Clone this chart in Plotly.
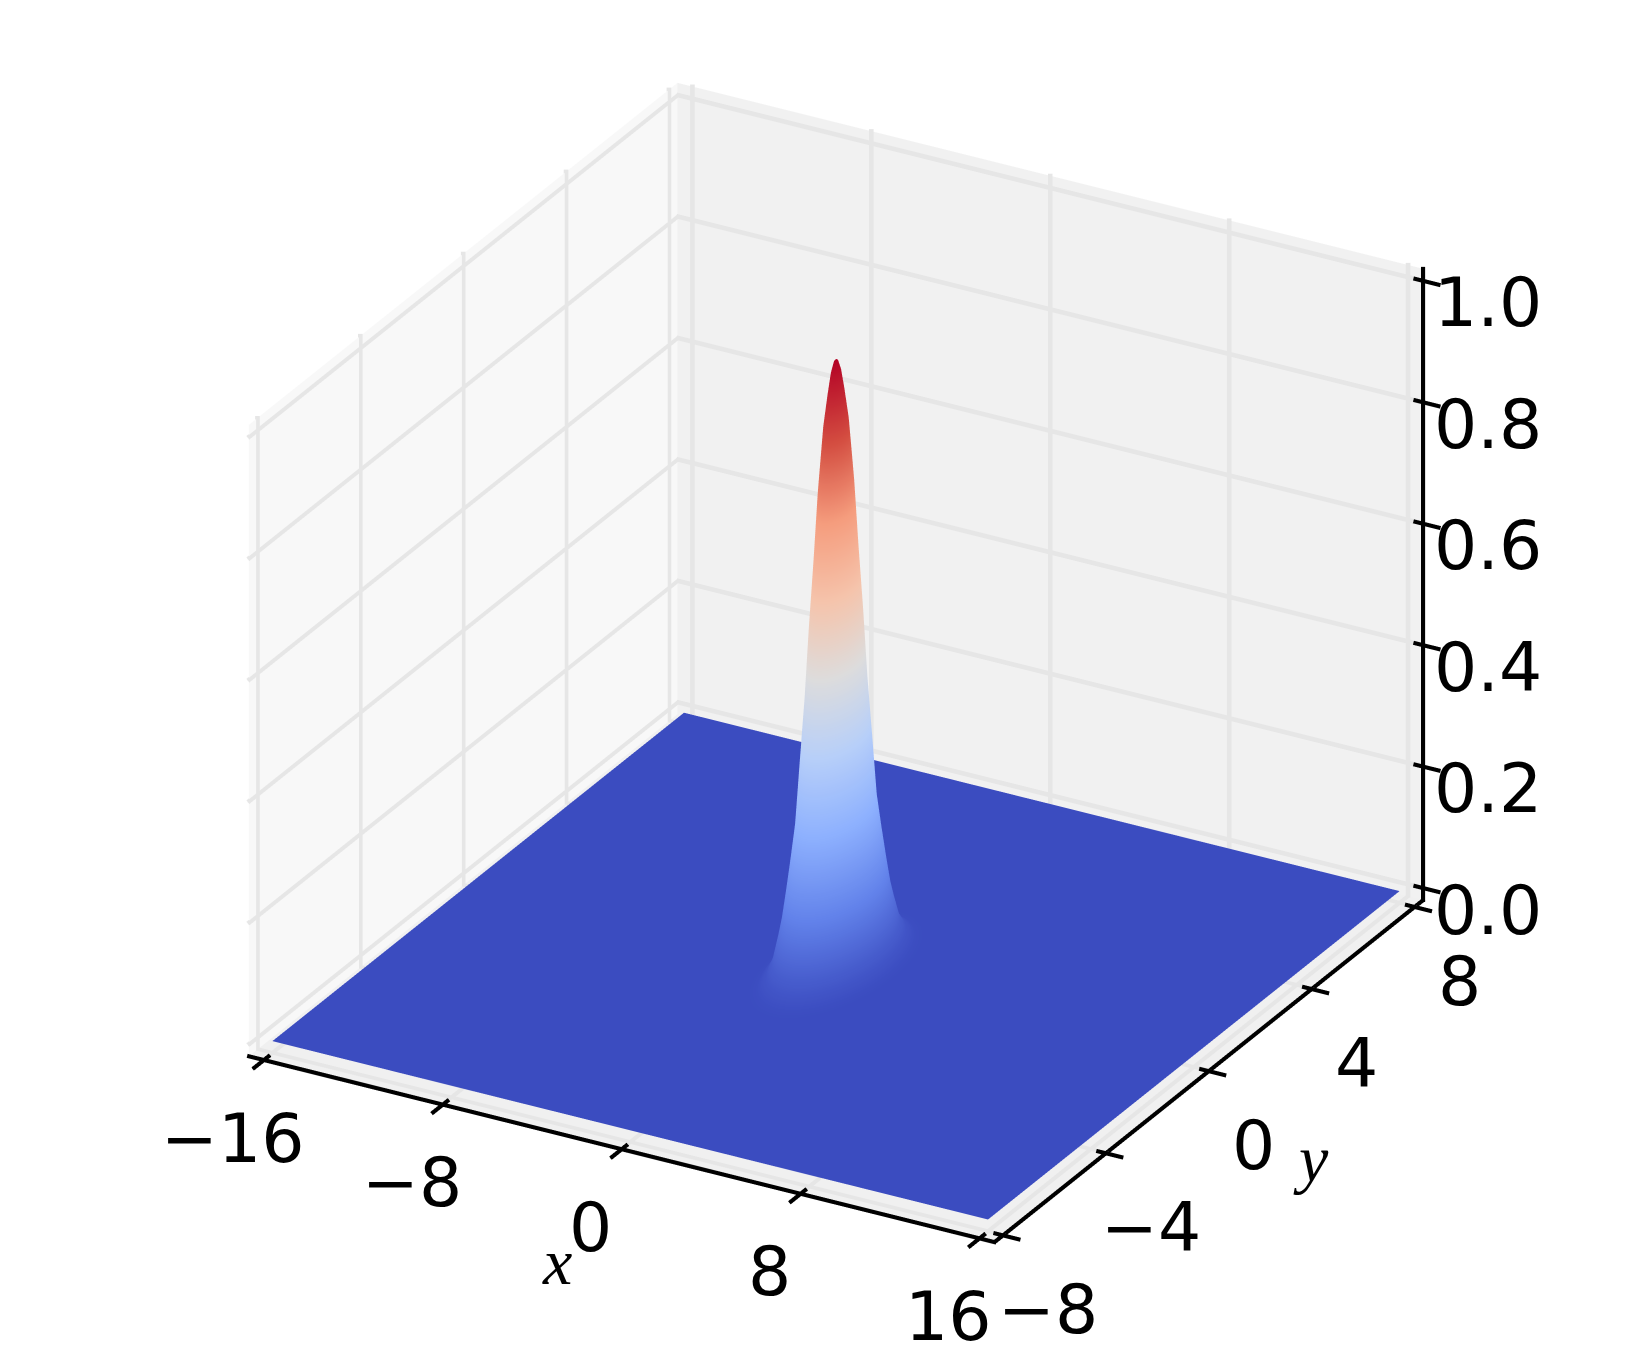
import numpy as np
import plotly.graph_objects as go

profile_r = [0.0, 0.06, 0.15, 0.25, 0.375, 0.535, 0.66, 0.8, 0.92, 1.06, 1.2, 1.34, 1.48, 1.6, 1.7, 1.88, 2.07, 2.35, 2.8]
profile_z = [1.0, 0.997, 0.98, 0.945, 0.895, 0.79, 0.68, 0.57, 0.46, 0.36, 0.257, 0.2, 0.147, 0.105, 0.08, 0.04, 0.02, 0.005, 0.0]
theta_deg = list(range(0, 361, 6))
base_x = [-16, 16]
base_y = [-8, 8]
base_z = [[0, 0], [0, 0]]
x_ticks = [-16, -8, 0, 8, 16]
y_ticks = [-8, -4, 0, 4, 8]
z_ticks = [0.0, 0.2, 0.4, 0.6, 0.8, 1.0]
x_range = [-16.67, 16.67]
y_range = [-8.33, 8.33]
z_range = [-0.02, 1.02]
coolwarm = [[0.0, "#3b4cc0"], [0.125, "#6282ea"], [0.25, "#8db0fe"], [0.375, "#b7cff9"],
            [0.5, "#dddcdc"], [0.625, "#f5c4ac"], [0.75, "#f59d7e"], [0.875, "#d44e41"], [1.0, "#b40426"]]

box_aspect = np.array([1.305, 1.342, 1.078])
pad = 0.1
eye_dir = np.array([0.4367, -0.7813, 0.446])
eye_dist = 3.0
px_per_unit = 640.0

r = np.array(profile_r)
t = np.radians(theta_deg)
X = np.outer(r, np.cos(t))
Y = np.outer(r, np.sin(t))
Z = np.outer(np.array(profile_z), np.ones_like(t))

flat = dict(ambient=1, diffuse=0, specular=0, roughness=1, fresnel=0)
fig = go.Figure()
fig.add_surface(x=base_x, y=base_y, z=base_z, colorscale=coolwarm, cmin=0, cmax=1, showscale=False,
                lighting=flat, hoverinfo="skip")
fig.add_surface(x=X, y=Y, z=Z, colorscale=coolwarm, cmin=0, cmax=1, showscale=False, lighting=flat)

x0, x1 = x_range
y0, y1 = y_range
z0, z1 = z_range
lo = np.array([x0, y0, z0])
span = np.array([x1 - x0, y1 - y0, z1 - z0])
view = eye_dir / np.linalg.norm(eye_dir)
# the axis ranges are wider than the drawn box, since marks beyond a range get clipped
plot_lo = lo - span * pad
plot_span = span * (1 + 2 * pad)
aspect = box_aspect * (1 + 2 * pad)


def to_box(p):
    return (np.array(p, float) - plot_lo) / plot_span * aspect


def to_data(b):
    return b / aspect * plot_span + plot_lo


def add_mesh(pts, tri, color):
    pts = np.array(pts)
    tri = np.array(tri)
    fig.add_mesh3d(x=pts[:, 0], y=pts[:, 1], z=pts[:, 2], i=tri[:, 0], j=tri[:, 1], k=tri[:, 2],
                   color=color, lighting=flat, hoverinfo="skip", showlegend=False, flatshading=True)


def ribbons(pairs, color, width_px, lift):
    """Screen-facing strips, because WebGL lines stay one pixel wide here."""
    half = width_px / 2 / px_per_unit
    pts, tri = [], []
    for a, b in pairs:
        A, B = to_box(a), to_box(b)
        n = np.cross(B - A, view)
        n = n / np.linalg.norm(n) * half
        along = (B - A) / np.linalg.norm(B - A) * half
        base = len(pts)
        for q in (A - along - n, A - along + n, B + along + n, B + along - n):
            pts.append(to_data(q + view * lift))
        tri += [(base, base + 1, base + 2), (base, base + 2, base + 3)]
    add_mesh(pts, tri, color)


quad = [(0, 1, 2), (0, 2, 3)]
add_mesh([(x0, y0, z0), (x0, y1, z0), (x0, y1, z1), (x0, y0, z1)], quad, "#f8f8f8")
add_mesh([(x0, y1, z0), (x1, y1, z0), (x1, y1, z1), (x0, y1, z1)], quad, "#f1f1f1")
add_mesh([(x0, y0, z0), (x1, y0, z0), (x1, y1, z0), (x0, y1, z0)], quad, "#f0f0f0")

grid = []
for v in x_ticks:
    grid += [((v, y1, z0), (v, y1, z1)), ((v, y0, z0), (v, y1, z0))]
for v in y_ticks:
    grid += [((x0, v, z0), (x0, v, z1)), ((x0, v, z0), (x1, v, z0))]
for v in z_ticks:
    grid += [((x0, y0, v), (x0, y1, v)), ((x0, y1, v), (x1, y1, v))]
ribbons(grid, "#e6e6e6", 4.5, 0.004)

x_in, x_out = 0.35, 0.7
y_in, y_out = 0.2, 0.4
axis_lines = [((x0, y0, z0), (x1, y0, z0)), ((x1, y0, z0), (x1, y1, z0)), ((x1, y1, z0), (x1, y1, z1))]
axis_lines += [((v, y0 - y_out, z0), (v, y0 + y_in, z0)) for v in x_ticks]
axis_lines += [((x1 - x_in, v, z0), (x1 + x_out, v, z0)) for v in y_ticks]
axis_lines += [((x1 - x_in, y1, v), (x1 + x_out, y1, v)) for v in z_ticks]
ribbons(axis_lines, "black", 4, 0.01)

fmt = lambda v: str(v).replace("-", "\u2212")
tfont = dict(family="DejaVu Sans", size=68, color="black")
lfont = dict(family="Liberation Serif", size=66, color="black")
ann = []
for v in x_ticks:
    ann.append(dict(x=v, y=y0, z=z0, text=fmt(v), xshift=-31, yshift=-78, showarrow=False, font=tfont))
for v in y_ticks:
    ann.append(dict(x=x1, y=v, z=z0, text=fmt(v), xshift=45, yshift=-74, showarrow=False, font=tfont))
for v in z_ticks:
    ann.append(dict(x=x1, y=y1, z=v, text=f"{v:.1f}", xshift=65, yshift=-22, showarrow=False, font=tfont))
ann.append(dict(x=0, y=y0, z=z0, text="<i>x</i>", xshift=-65, yshift=-112, showarrow=False, font=lfont))
ann.append(dict(x=x1, y=0, z=z0, text="<i>y</i>", xshift=102, yshift=-87, showarrow=False, font=lfont))


def axis(axis_lo, axis_span):
    return dict(range=[float(axis_lo), float(axis_lo + axis_span)], autorange=False, showbackground=False,
                showgrid=False, showline=False, zeroline=False, showticklabels=False, ticks="",
                showspikes=False, title=dict(text=""))


eye = eye_dir * eye_dist
fig.update_layout(
    width=1629, height=1360, margin=dict(l=0, r=0, t=0, b=0), paper_bgcolor="white",
    showlegend=False,
    scene=dict(
        xaxis=axis(plot_lo[0], plot_span[0]),
        yaxis=axis(plot_lo[1], plot_span[1]),
        zaxis=axis(plot_lo[2], plot_span[2]),
        aspectmode="manual",
        aspectratio=dict(x=float(aspect[0]), y=float(aspect[1]), z=float(aspect[2])),
        camera=dict(eye=dict(x=float(eye[0]), y=float(eye[1]), z=float(eye[2])),
                    center=dict(x=0, y=0, z=0), up=dict(x=0, y=0, z=1),
                    projection=dict(type="orthographic")),
        domain=dict(x=[0.0165, 1], y=[0.0374, 1]),
        annotations=ann,
    ),
)
fig.write_html("out.html")
